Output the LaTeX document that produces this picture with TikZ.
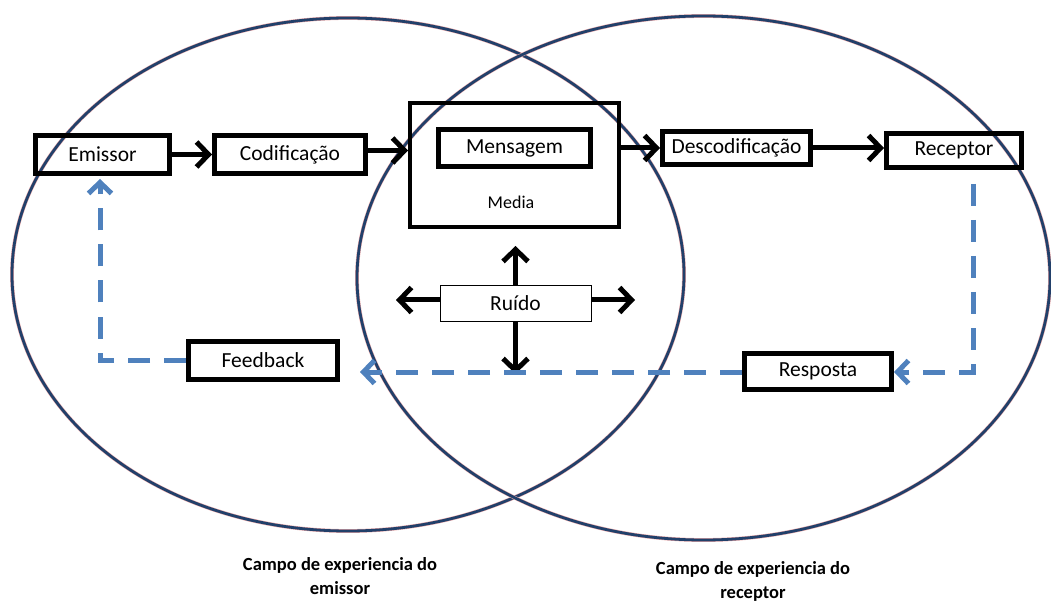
\documentclass[tikz,border=0pt]{standalone}
\usepackage{fontspec}
\setmainfont{Carlito}
\usetikzlibrary{arrows.meta}
\definecolor{navy}{HTML}{22406A}
\definecolor{halo}{HTML}{E8A8A8}
\definecolor{fbblue}{HTML}{4F81BD}
\tikzset{
  x=1pt,y=-1pt,
  box/.style={draw=black,line width=5pt,rectangle,inner sep=0pt,font=\fontsize{21.5}{25}\selectfont},
  thinbox/.style={draw=black,line width=0.8pt,rectangle,inner sep=0pt,font=\fontsize{21.5}{25}\selectfont},
  blk/.style={draw=black,line width=5pt,-{Straight Barb[length=12pt,width=25pt]}},
  fb/.style={draw=fbblue,line width=5pt,dash pattern=on 22pt off 14pt},
  fbarrow/.style={fb,-{Straight Barb[length=11pt,width=23pt]}},
  ring/.style={draw=navy,line width=2.8pt},
  ringhalo/.style={draw=halo,line width=3.8pt},
  lbl/.style={font=\bfseries\fontsize{18.5}{24}\selectfont,align=center}
}
\begin{document}
\begin{tikzpicture}
\useasboundingbox (0,0) rectangle (1051,601);
% ellipses
\draw[ringhalo] (348,274.5) ellipse [x radius=336,y radius=256.5];
\draw[ring] (348,274.5) ellipse [x radius=336,y radius=256.5];
\draw[ringhalo] (703.5,278) ellipse [x radius=346.5,y radius=262];
\draw[ring] (703.5,278) ellipse [x radius=346.5,y radius=262];
% nodes
\node[box,minimum width=134pt,minimum height=38pt] (emi) at (102.5,154.5) {Emissor};
\node[box,minimum width=151pt,minimum height=38pt] (cod) at (290,154.5) {Codificação};
\node[draw=black,line width=4pt,rectangle,minimum width=209pt,minimum height=124pt] (med) at (514.5,165) {};
\node[box,minimum width=152pt,minimum height=37pt] (msg) at (514.5,148) {Mensagem};
\node[font=\fontsize{18}{22}\selectfont] (medl) at (511,202) {Media};
\node[box,minimum width=148pt,minimum height=33pt] (des) at (736.5,148) {Descodificação};
\node[box,minimum width=135pt,minimum height=34pt] (rec) at (954,150.5) {Receptor};
\node[thinbox,minimum width=151pt,minimum height=36pt] (rui) at (515.5,303) {Ruído};
\node[box,minimum width=149pt,minimum height=38pt] (fee) at (263,360.5) {Feedback};
\node[box,minimum width=147pt,minimum height=36pt] (res) at (818,371.5) {Resposta};
% black arrows
\coordinate (cy) at (0,150.5);
\draw[blk] (emi.east) -- (cod.west);
\draw[blk] (cod.east |- cy) -- (med.west |- cy);
\draw[blk] (med.east |- des.west) -- (des.west);
\draw[blk] (des.east) -- (rec.west |- des.east);
% noise arrows
\coordinate (nu) at (515.5,246);
\coordinate (nd) at (515.5,374);
\coordinate (nl) at (396,300);
\coordinate (nr) at (635,300);
\draw[blk] (rui.north) -- (nu);
\draw[blk] (rui.south) -- (nd);
\draw[blk] (rui.west |- nl) -- (nl);
\draw[blk] (rui.east |- nr) -- (nr);
% feedback loop
\coordinate (r0) at (973,184);
\coordinate (r1) at (973,372);
\draw[fbarrow] (r0) -- (r1) -- (res.east |- r1);
\coordinate (ftip) at (360,372);
\draw[fbarrow] (res.west |- r1) -- (ftip);
\coordinate (f1) at (100,360.5);
\coordinate (etip) at (100,179);
\draw[fbarrow] (fee.west) -- (f1) -- (etip);
% labels
\node[lbl] (lemi) at (340,576) {Campo de experiencia do\\emissor};
\node[lbl] (lrec) at (753,581) {Campo de experiencia do\\receptor};
\end{tikzpicture}
\end{document}
